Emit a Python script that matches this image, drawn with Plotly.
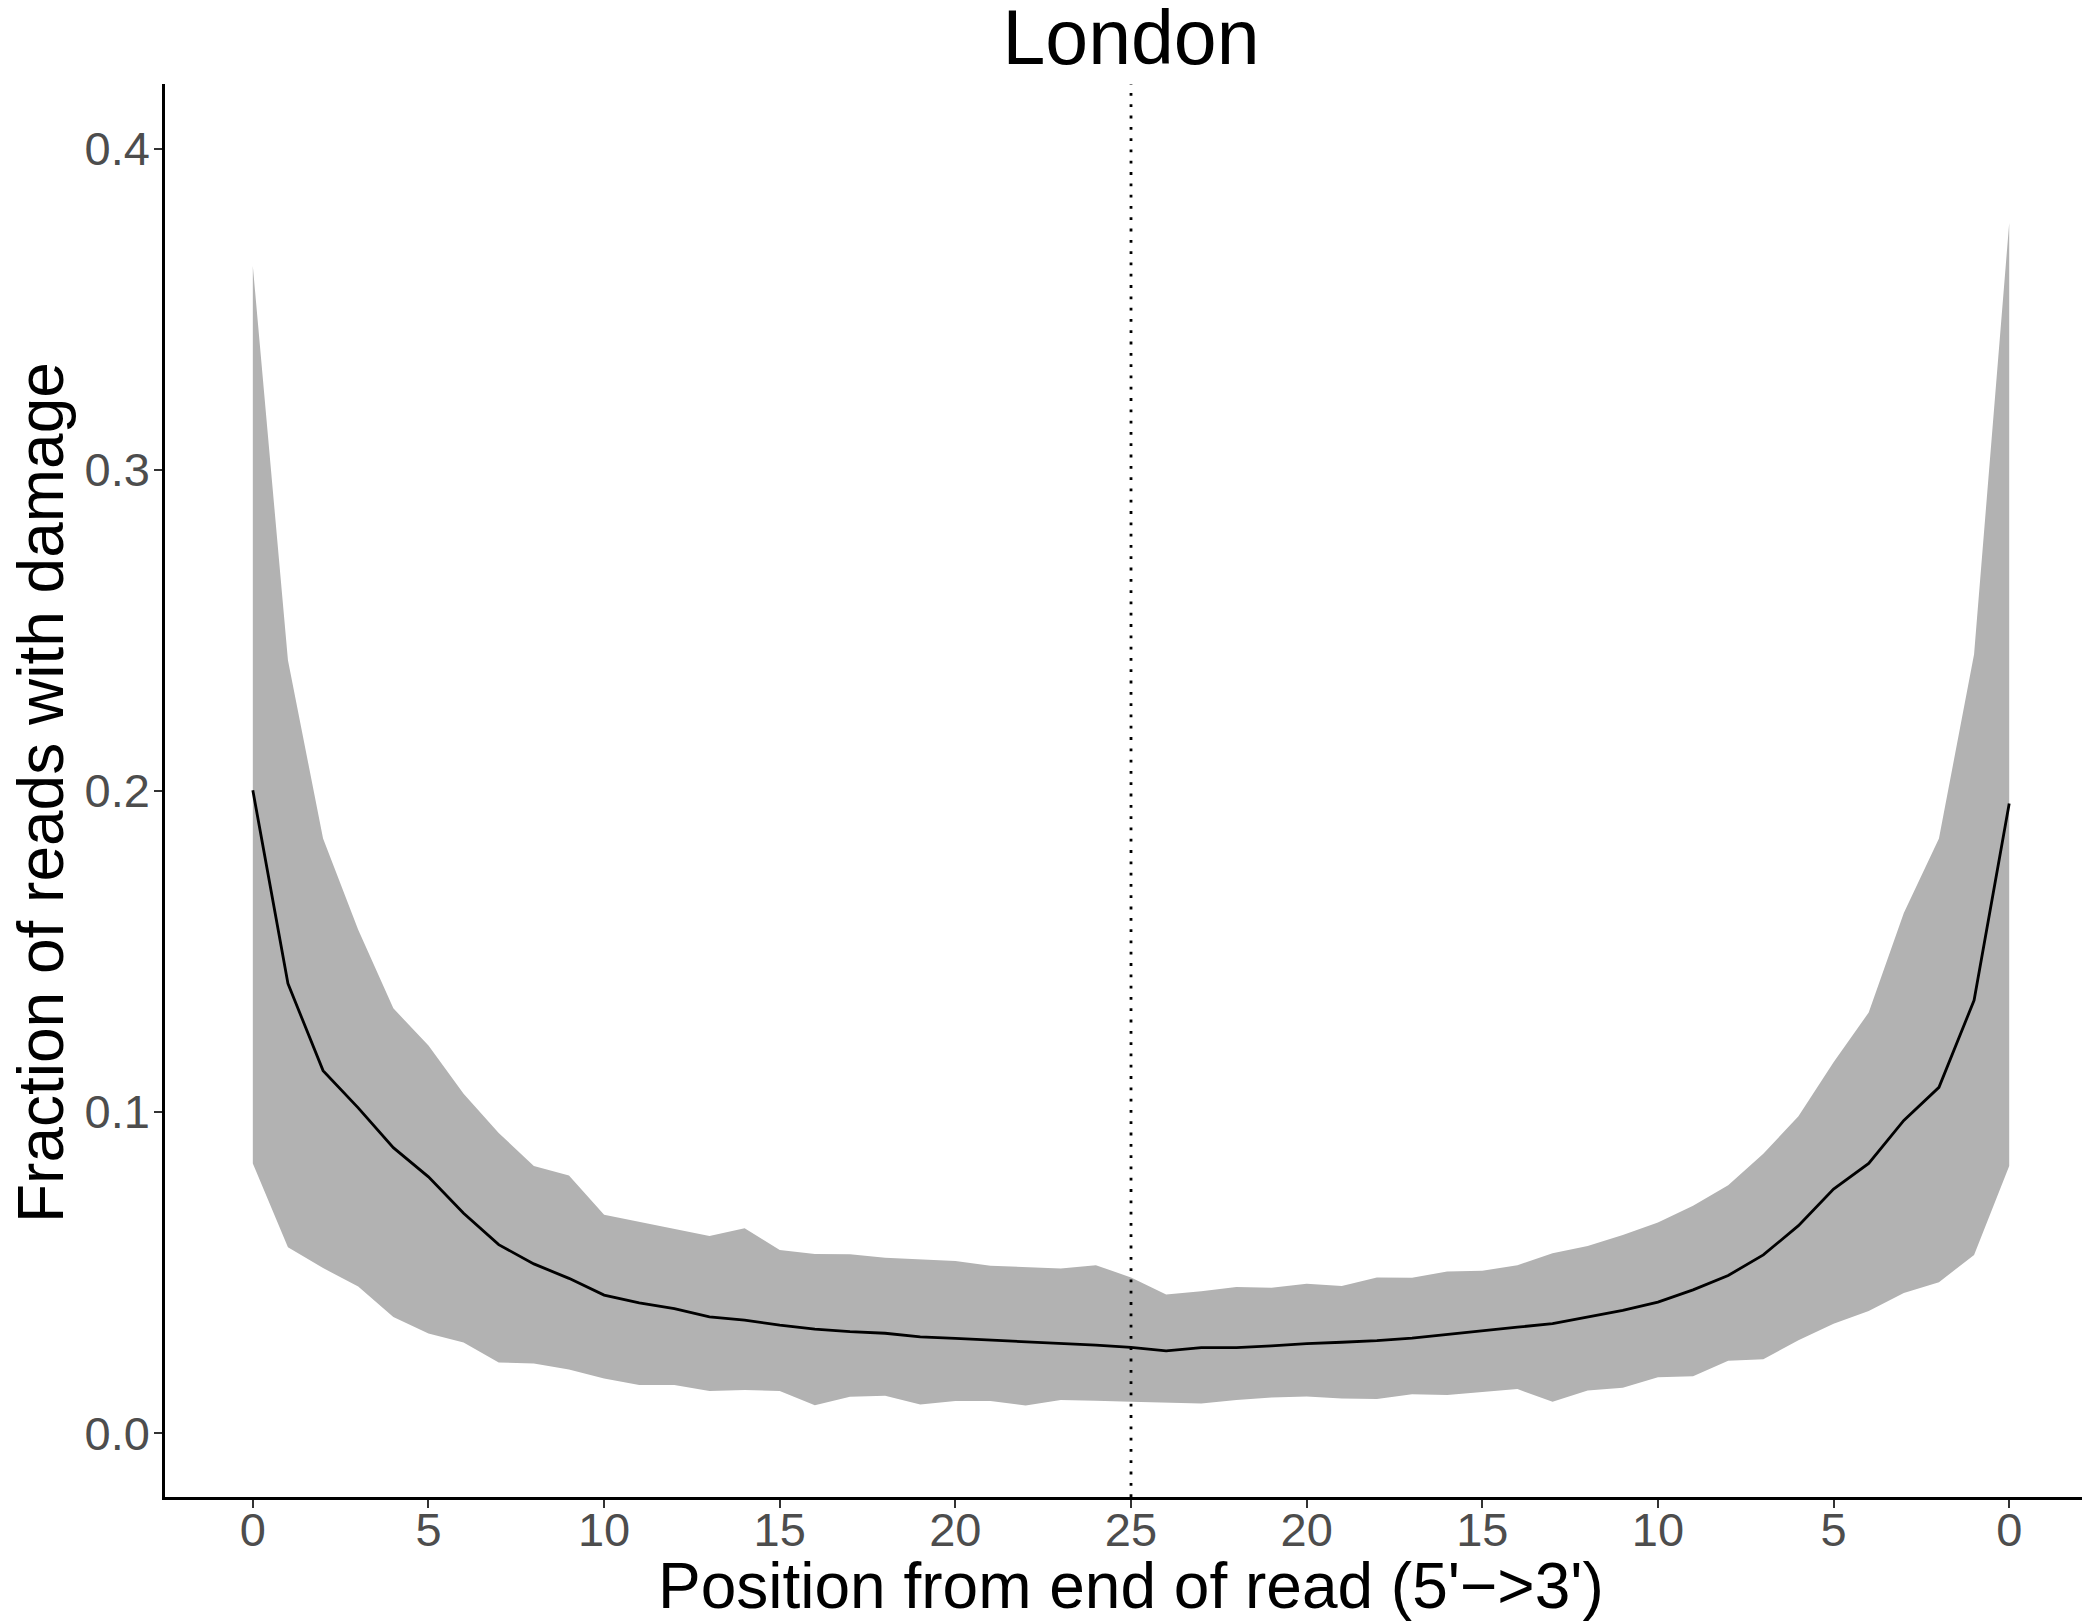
import plotly.graph_objects as go

# Position index along the read (0..50); labels count from each end
positions = list(range(51))
tick_positions = [0, 5, 10, 15, 20, 25, 30, 35, 40, 45, 50]
tick_labels = ["0", "5", "10", "15", "20", "25", "20", "15", "10", "5", "0"]

mean_frac = [
    0.2002, 0.1400, 0.1129, 0.1013, 0.0889, 0.0798, 0.0685, 0.0587, 0.0527, 0.0482,
    0.0430, 0.0406, 0.0388, 0.0362, 0.0352, 0.0336, 0.0324, 0.0316, 0.0311, 0.0300,
    0.0295, 0.0290, 0.0283, 0.0279, 0.0274, 0.0267, 0.0256, 0.0266, 0.0266, 0.0272,
    0.0279, 0.0283, 0.0288, 0.0296, 0.0308, 0.0320, 0.0330, 0.0341, 0.0362, 0.0382,
    0.0408, 0.0446, 0.0491, 0.0555, 0.0646, 0.0760, 0.0840, 0.0974, 0.1077, 0.1348,
    0.1961,
]
upper_frac = [
    0.3635, 0.2407, 0.1852, 0.1568, 0.1323, 0.1207, 0.1057, 0.0935, 0.0832, 0.0802,
    0.0680, 0.0658, 0.0634, 0.0614, 0.0638, 0.0570, 0.0558, 0.0557, 0.0546, 0.0541,
    0.0536, 0.0521, 0.0517, 0.0513, 0.0523, 0.0485, 0.0432, 0.0442, 0.0455, 0.0453,
    0.0465, 0.0458, 0.0485, 0.0484, 0.0503, 0.0506, 0.0523, 0.0560, 0.0583, 0.0617,
    0.0656, 0.0708, 0.0772, 0.0870, 0.0987, 0.1155, 0.1310, 0.1620, 0.1852, 0.2426,
    0.3769,
]
lower_frac = [
    0.0840, 0.0579, 0.0514, 0.0457, 0.0362, 0.0310, 0.0282, 0.0220, 0.0217, 0.0198,
    0.0170, 0.0150, 0.0150, 0.0131, 0.0134, 0.0131, 0.0087, 0.0113, 0.0116, 0.0089,
    0.0100, 0.0100, 0.0086, 0.0103, 0.0101, 0.0098, 0.0094, 0.0092, 0.0103, 0.0111,
    0.0114, 0.0108, 0.0106, 0.0121, 0.0119, 0.0128, 0.0137, 0.0098, 0.0133, 0.0141,
    0.0174, 0.0177, 0.0225, 0.0230, 0.0289, 0.0341, 0.0380, 0.0436, 0.0470, 0.0555,
    0.0832,
]
y_ticks = [0.0, 0.1, 0.2, 0.3, 0.4]
y_tick_labels = ["0.0", "0.1", "0.2", "0.3", "0.4"]
midpoint = 25

FONT = "Liberation Sans, Arial, Helvetica, sans-serif"

# page body has an 8px margin, so the figure is 8px smaller than the window
W, H = 2082, 1616
L, T, B = 157, 76, 127
PW, PH = W - L, H - T - B
bottom = H - B

fig = go.Figure()
fig.add_trace(go.Scatter(
    x=positions + positions[::-1],
    y=upper_frac + lower_frac[::-1],
    fill="toself", fillcolor="#B2B2B2",
    line=dict(width=0, color="#B2B2B2"),
    mode="lines", hoverinfo="skip", showlegend=False,
))
fig.add_trace(go.Scatter(
    x=positions, y=mean_frac, mode="lines",
    line=dict(color="black", width=2.8), showlegend=False,
))
fig.add_shape(type="line", xref="x", yref="paper", x0=midpoint, x1=midpoint,
              y0=0, y1=1, line=dict(color="black", width=2.8, dash="2.8px,8.5px"))

fig.update_layout(
    width=W, height=H,
    margin=dict(l=L, r=0, t=T, b=B),
    paper_bgcolor="white", plot_bgcolor="white",
    font=dict(family=FONT),
    title=dict(text="London", x=(L + 2089) / 2 / W, xanchor="center",
               y=1 - 29.5 / H, yanchor="middle", yref="container",
               font=dict(size=77, color="black", family=FONT)),
    xaxis=dict(range=[-2.5, 52.3], tickmode="array", tickvals=tick_positions,
               ticktext=tick_labels, showgrid=False, zeroline=False,
               showline=True, linecolor="black", linewidth=2.5,
               ticks="outside", ticklen=8, tickwidth=2, tickcolor="#333333",
               ticklabelstandoff=-18,
               tickfont=dict(size=47, color="#4D4D4D", family=FONT)),
    yaxis=dict(range=[-0.0199, 0.4202], tickmode="array", tickvals=y_ticks,
               ticktext=y_tick_labels, showgrid=False, zeroline=False,
               showline=True, linecolor="black", linewidth=2.5,
               ticks="outside", ticklen=8, tickwidth=2, tickcolor="#333333",
               ticklabelstandoff=-5,
               tickfont=dict(size=47, color="#4D4D4D", family=FONT)),
    annotations=[
        dict(text="Position from end of read (5'\u2212>3')", xref="paper", yref="paper",
             x=(1123 - L) / PW, y=(bottom - 1578) / PH, xanchor="center", yanchor="middle",
             showarrow=False, font=dict(size=64, color="black", family=FONT)),
        dict(text="Fraction of reads with damage", xref="paper", yref="paper",
             x=(33 - L) / PW, y=(bottom - 785) / PH, xanchor="center", yanchor="middle",
             textangle=-90, showarrow=False, font=dict(size=64, color="black", family=FONT)),
    ],
)
fig.write_html("out.html")
